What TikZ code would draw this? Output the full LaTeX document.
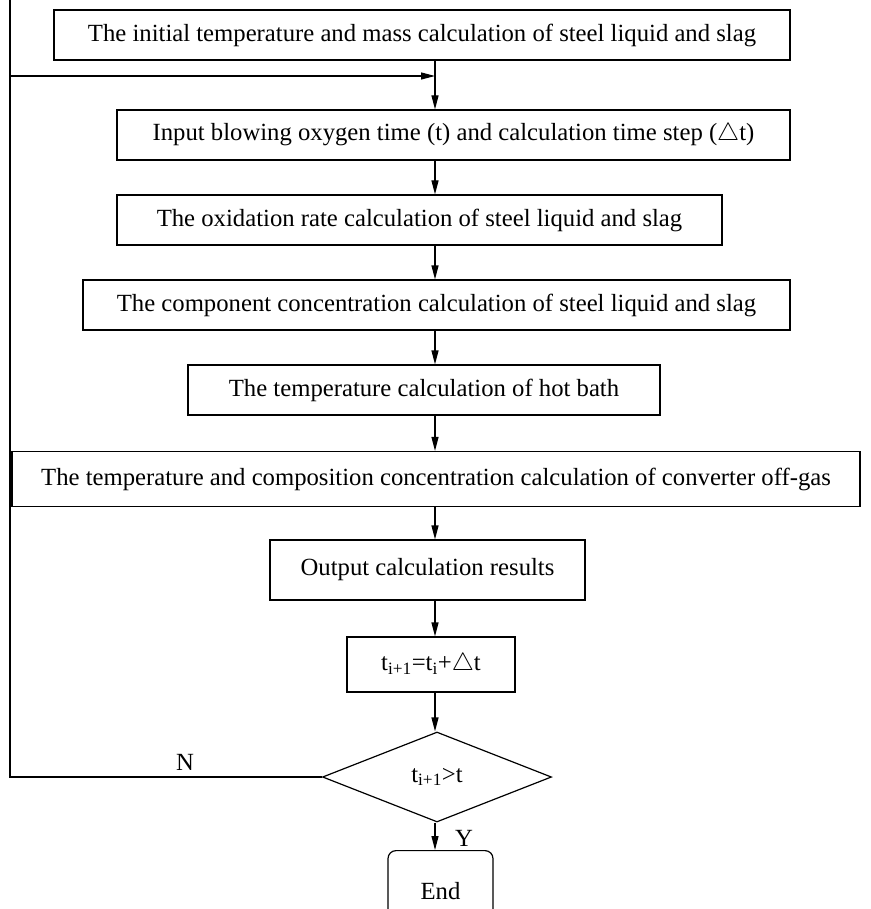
\documentclass[tikz,border=0pt]{standalone}
\usepackage{fontspec}
\setmainfont{Liberation Serif}
\usetikzlibrary{shapes.geometric,arrows.meta}

\tikzset{
  txt/.style={font=\fontsize{24.7}{28}\selectfont},
  box/.style={draw, line width=1.2pt, minimum height=50pt, txt, inner sep=0pt},
  decision/.style={draw, diamond, line width=1.2pt, aspect=2.55, inner sep=0pt, minimum width=229pt, minimum height=90pt, txt},
  flow/.style={line width=1.2pt, -{Triangle[length=14pt,width=7pt]}},
}

\begin{document}
\begin{tikzpicture}[x=1pt, y=-1pt]
    \useasboundingbox (0,0) rectangle (870,909);
    % Cajas del proceso
    \node[box, minimum width=736pt] (init) at (422,35) {The initial temperature and mass calculation of steel liquid and slag};
    \node[box, minimum width=673pt] (input) at (453.5,135) {Input blowing oxygen time (t) and calculation time step ($\triangle$t)};
    \node[box, minimum width=605pt] (oxid) at (419.5,220) {The oxidation rate calculation of steel liquid and slag};
    \node[box, minimum width=707pt] (comp) at (436.5,305) {The component concentration calculation of steel liquid and slag};
    \node[box, minimum width=472pt] (bath) at (424,390) {The temperature calculation of hot bath};
    \node[box, minimum width=848pt, minimum height=55pt] (gas) at (436,479) {The temperature and composition concentration calculation of converter off-gas};
    \node[box, minimum width=315pt, minimum height=60pt] (output) at (427.5,570) {Output calculation results};
    \node[box, minimum width=168pt, minimum height=55pt] (step) at (431,664.5) {t\textsubscript{i+1}=t\textsubscript{i}+$\triangle$t};
    \node[decision] (test) at (437,777) {t\textsubscript{i+1}>t};
    \node[box, rounded corners=8pt, minimum width=105pt, minimum height=80pt, anchor=north] (stop) at (440.5,850) {\raisebox{-6pt}{End}};

    % Retorno
    \coordinate (top) at (10,0);
    \coordinate (corner) at (10,777);
    \coordinate (join) at (435,76);
    \draw[flow] (test.west) -- (corner) -- (top |- join) -- (join);
    \draw[line width=1.2pt] (top) -- (top |- join);
    \node[txt] (no) at (185,762) {N};
    \node[txt] (yes) at (464,838) {Y};

    % Flechas
    \draw[flow] (init.south -| join) -- (input.north -| join);
    \draw[flow] (input.south -| join) -- (oxid.north -| join);
    \draw[flow] (oxid.south -| join) -- (comp.north -| join);
    \draw[flow] (comp.south -| join) -- (bath.north -| join);
    \draw[flow] (bath.south -| join) -- (gas.north -| join);
    \draw[flow] (gas.south -| join) -- (output.north -| join);
    \draw[flow] (output.south -| join) -- (step.north -| join);
    \draw[flow] (step.south -| join) -- (test.north -| join);
    \draw[flow] (test.south -| join) -- (stop.north -| join);
\end{tikzpicture}
\end{document}
